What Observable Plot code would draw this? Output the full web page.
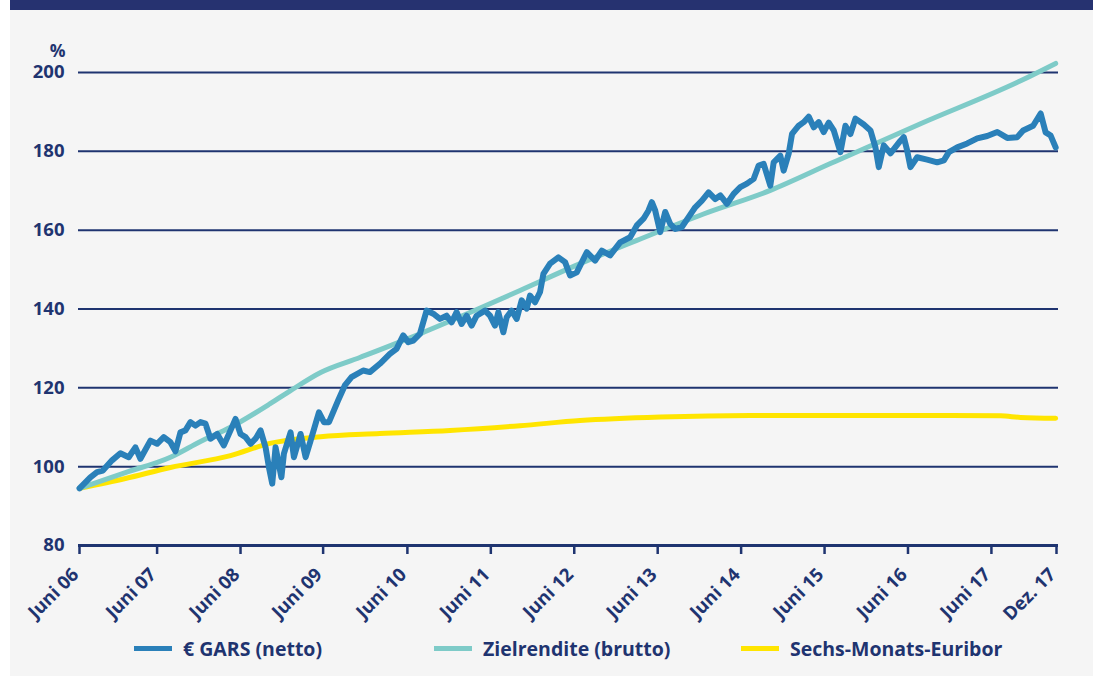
<!DOCTYPE html>
<html>
<head>
<meta charset="utf-8">
<script src="https://cdn.jsdelivr.net/npm/d3@7"></script>
<script src="https://cdn.jsdelivr.net/npm/@observablehq/plot@0.6"></script>
<style>
  html, body { margin: 0; padding: 0; background: #ffffff; }
  #wrap { position: absolute; left: 10px; top: 0; width: 1083px; height: 676px; background: #f5f5f5; overflow: hidden; }
  #head { position: absolute; left: 0; top: 0; width: 1083px; height: 10px; background: #263270; }
  #chart { position: absolute; left: 0; top: 0; }
  .lg { position: absolute; top: 635px; height: 26px; display: flex; align-items: center;
        font-family: "Open Sans", sans-serif; font-weight: 700; font-size: 19.5px; color: #1f3470; white-space: nowrap; }
  .sw { width: 38px; height: 5px; margin-right: 11px; }
</style>
</head>
<body>
<div id="wrap">
  <div id="head"></div>
  <div id="chart"></div>
  <div id="legend"></div>
</div>
<script>
// ---- data (x = time in decimal years, y = index in %) ----
const tickValues = [2006.49, 2007.42, 2008.42, 2009.41, 2010.42, 2011.42, 2012.42, 2013.42, 2014.42, 2015.42, 2016.42, 2017.42, 2018.2];
const tickLabels = ["Juni 06", "Juni 07", "Juni 08", "Juni 09", "Juni 10", "Juni 11", "Juni 12", "Juni 13", "Juni 14", "Juni 15", "Juni 16", "Juni 17", "Dez. 17"];
const yTicks = [80, 100, 120, 140, 160, 180, 200];

const seriesNames = ["€ GARS (netto)", "Zielrendite (brutto)", "Sechs-Monats-Euribor"];
const seriesColors = ["#2a80b9", "#7ecbc8", "#ffe500"];

const garsT = [2006.49, 2006.62, 2006.70, 2006.77, 2006.88, 2006.98, 2007.08, 2007.16, 2007.22, 2007.34,
  2007.42, 2007.50, 2007.58, 2007.64, 2007.70, 2007.76, 2007.82, 2007.88, 2007.94, 2008.00,
  2008.06, 2008.14, 2008.22, 2008.30, 2008.36, 2008.42, 2008.48, 2008.54, 2008.60, 2008.66,
  2008.72, 2008.76, 2008.80, 2008.84, 2008.91, 2008.94, 2009.02, 2009.06, 2009.14, 2009.20,
  2009.26, 2009.32, 2009.36, 2009.42, 2009.48, 2009.59, 2009.67, 2009.75, 2009.89, 2009.97,
  2010.09, 2010.21, 2010.29, 2010.37, 2010.43, 2010.49, 2010.57, 2010.65, 2010.73, 2010.81,
  2010.89, 2010.95, 2011.01, 2011.07, 2011.13, 2011.19, 2011.25, 2011.35, 2011.41, 2011.47,
  2011.51, 2011.57, 2011.61, 2011.67, 2011.73, 2011.79, 2011.85, 2011.89, 2011.95, 2012.01,
  2012.05, 2012.13, 2012.23, 2012.31, 2012.37, 2012.45, 2012.57, 2012.67, 2012.75, 2012.85,
  2012.97, 2013.09, 2013.17, 2013.25, 2013.31, 2013.35, 2013.39, 2013.45, 2013.51, 2013.57,
  2013.63, 2013.71, 2013.79, 2013.87, 2013.95, 2014.03, 2014.11, 2014.17, 2014.25, 2014.33,
  2014.41, 2014.49, 2014.57, 2014.63, 2014.69, 2014.77, 2014.81, 2014.89, 2014.93, 2014.99,
  2015.03, 2015.11, 2015.17, 2015.23, 2015.29, 2015.35, 2015.41, 2015.47, 2015.53, 2015.61,
  2015.67, 2015.73, 2015.79, 2015.89, 2015.97, 2016.03, 2016.07, 2016.13, 2016.21, 2016.33,
  2016.37, 2016.41, 2016.45, 2016.53, 2016.65, 2016.77, 2016.85, 2016.91, 2017.01, 2017.13,
  2017.25, 2017.37, 2017.49, 2017.61, 2017.73, 2017.80, 2017.92, 2018.01, 2018.07, 2018.13, 2018.19];
const garsV = [94.5, 97.3, 98.6, 99.0, 101.6, 103.4, 102.4, 104.9, 102.0, 106.6,
  105.8, 107.5, 106.2, 103.9, 108.7, 109.2, 111.3, 110.4, 111.3, 110.9,
  107.1, 108.3, 105.4, 109.2, 112.1, 108.3, 107.5, 105.8, 107.1, 109.2,
  104.9, 99.9, 95.7, 104.9, 97.3, 103.3, 108.7, 102.4, 108.3, 102.4,
  106.6, 110.9, 113.8, 111.3, 111.3, 116.8, 120.6, 122.7, 124.4, 124.0,
  126.1, 128.6, 129.9, 133.3, 131.6, 132.0, 133.7, 139.6, 138.8, 137.5,
  138.3, 136.6, 139.2, 136.2, 138.3, 135.8, 138.3, 139.6, 138.3, 135.8,
  139.2, 134.1, 137.9, 139.6, 137.5, 142.2, 140.1, 143.4, 141.7, 144.3,
  148.9, 151.5, 153.1, 151.9, 148.5, 149.3, 154.4, 152.3, 154.8, 153.6,
  156.9, 158.2, 161.2, 162.9, 165.0, 167.1, 165.0, 159.5, 164.6, 161.6,
  160.3, 160.8, 163.3, 165.8, 167.5, 169.6, 167.9, 168.8, 166.7, 169.2,
  170.9, 171.8, 173.0, 176.4, 176.8, 171.3, 177.2, 178.9, 175.1, 179.4,
  184.4, 186.5, 187.4, 188.8, 186.1, 187.4, 184.9, 187.3, 185.3, 179.8,
  186.5, 184.4, 188.3, 186.8, 185.3, 181.0, 176.0, 181.5, 179.5, 182.7,
  183.6, 180.2, 176.0, 178.5, 177.9, 177.2, 177.7, 179.8, 181.0, 182.0,
  183.3, 183.9, 184.9, 183.4, 183.6, 185.3, 186.5, 189.6, 184.8, 184.0, 181.0];

const zielT = [2006.49, 2007.04, 2007.58, 2007.94, 2008.30, 2008.77, 2009.02, 2009.38, 2009.85, 2010.57,
  2011.17, 2011.77, 2012.49, 2013.17, 2013.97, 2014.77, 2015.49, 2016.57, 2017.77, 2018.19];
const zielV = [94.5, 98.5, 102.4, 106.4, 110.0, 115.9, 119.3, 123.9, 127.7, 133.7,
  139.1, 144.7, 151.5, 157.4, 164.1, 170.1, 176.9, 187.0, 197.9, 202.3];

const euriborT = [2006.49, 2007.04, 2007.58, 2008.30, 2008.77, 2009.38, 2010.09, 2010.93, 2011.77, 2012.49,
  2013.45, 2014.53, 2016.33, 2017.53, 2017.77, 2018.19];
const euriborV = [94.5, 97.0, 99.8, 102.8, 105.9, 107.6, 108.4, 109.2, 110.4, 111.7,
  112.6, 113.0, 113.0, 112.9, 112.5, 112.3];

// ---- build tables ----
const zip = (ts, vs) => ts.map((t, i) => ({t, v: vs[i]}));
const gars = zip(garsT, garsV);
const ziel = zip(zielT, zielV);
const euribor = zip(euriborT, euriborV);

const navy = "#1f3470";
const font = "'Open Sans', sans-serif";

const chart = Plot.plot({
  width: 1083,
  height: 620,
  marginLeft: 68,
  marginRight: 35,
  marginTop: 72,
  marginBottom: 75,
  style: {background: "transparent", fontFamily: font, fontWeight: 700, fontSize: "17px", color: navy, overflow: "visible"},
  x: {type: "linear", label: null, domain: [tickValues[0], tickValues[tickValues.length - 1]], insetLeft: 1, insetRight: 2},
  y: {label: null, domain: [80, 200]},
  marks: [
    Plot.ruleY(yTicks.filter(d => d > 80), {stroke: navy, strokeWidth: 2}),
    Plot.ruleY([80], {stroke: navy, strokeWidth: 3}),
    Plot.line(euribor, {x: "t", y: "v", stroke: seriesColors[2], strokeWidth: 5, curve: "monotone-x"}),
    Plot.line(ziel, {x: "t", y: "v", stroke: seriesColors[1], strokeWidth: 5, curve: "monotone-x"}),
    Plot.line(gars, {x: "t", y: "v", stroke: seriesColors[0], strokeWidth: 6, strokeLinejoin: "round", strokeLinecap: "round"}),
    Plot.axisY({ticks: yTicks, label: null, tickSize: 0, tickPadding: 14, fontSize: 18.5, fontWeight: 700, fill: navy}),
    Plot.axisX({ticks: tickValues, label: null, tickSize: 9, tickFormat: () => "", stroke: navy, strokeWidth: 2.5}),
    Plot.text(tickValues, {x: d => d, text: (d, i) => tickLabels[i], frameAnchor: "bottom", rotate: -45,
      textAnchor: "end", lineAnchor: "middle", dx: -4, dy: 26, fill: navy, fontSize: 18.5, fontWeight: 700}),
    Plot.text(["%"], {frameAnchor: "top-left", text: d => d, dx: -13, dy: -28, textAnchor: "end", fill: navy, fontSize: 17.5, fontWeight: 700})
  ]
});
document.getElementById("chart").appendChild(chart);

// ---- legend ----
const legendLeft = [124, 424, 731];
const legend = document.getElementById("legend");
seriesNames.forEach((name, i) => {
  const item = document.createElement("div");
  item.className = "lg";
  item.style.left = legendLeft[i] + "px";
  const sw = document.createElement("div");
  sw.className = "sw";
  sw.style.background = seriesColors[i];
  item.appendChild(sw);
  const tx = document.createElement("span");
  tx.textContent = name;
  item.appendChild(tx);
  legend.appendChild(item);
});
</script>
</body>
</html>
